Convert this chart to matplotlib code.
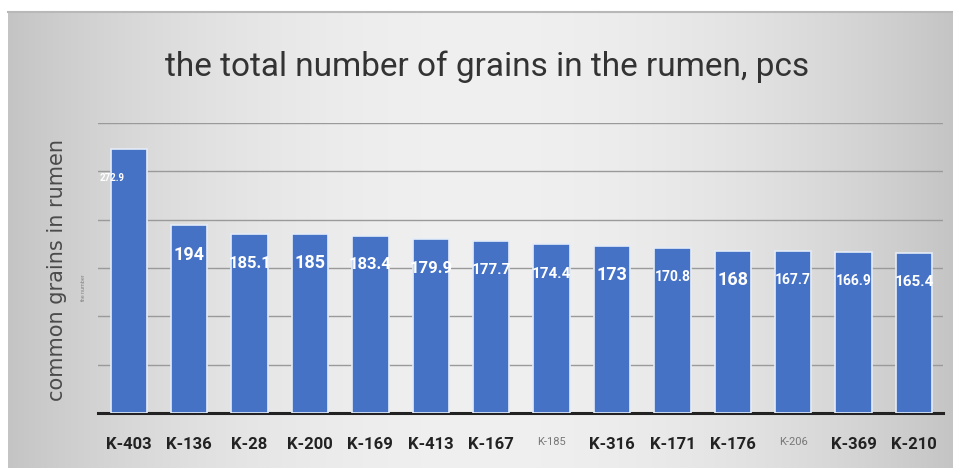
import numpy as np
import matplotlib.pyplot as plt

plt.rcParams['font.family'] = ['Roboto', 'DejaVu Sans']

# grains counted in the rumen, per sample
samples = ["K-403", "K-136", "K-28", "K-200", "K-169", "K-413", "K-167",
           "K-185", "K-316", "K-171", "K-176", "K-206", "K-369", "K-210"]
grains = [272.9, 194, 185.1, 185, 183.4, 179.9, 177.7,
          174.4, 173, 170.8, 168, 167.7, 166.9, 165.4]
value_text = ["272.9", "194", "185.1", "185", "183.4", "179.9", "177.7",
              "174.4", "173", "170.8", "168", "167.7", "166.9", "165.4"]
label_sizes = [7, 13, 12, 13, 12, 12, 11, 11, 13, 10, 13, 10, 10, 11]
small_ticks = ["K-185", "K-206"]

fig = plt.figure(figsize=(9.54, 4.68), dpi=100)

# grey card behind the chart, darker at both sides
bg = fig.add_axes([0, 0, 1, 1], zorder=-10)
xs = np.linspace(0, 1, 400)
shade = 0.94 - 0.17 * (np.abs(xs - 0.5) * 2) ** 2
img = np.tile(shade, (100, 1))
img = np.dstack([img, img, img])
bg.imshow(img, extent=[8 / 954, 1, 0, 1 - 12 / 468], aspect='auto',
          interpolation='bilinear')
bg.plot([8 / 954, 1], [1 - 12 / 468] * 2, color='#b8b8b8', lw=1.5)
bg.set_xlim(0, 1)
bg.set_ylim(0, 1)
bg.axis('off')

ax = fig.add_axes([98 / 954, 55 / 468, 845 / 954, 290 / 468])
ax.set_facecolor('none')
x = np.arange(len(samples))
bars = ax.bar(x, grains, width=0.6, color='#4672c6',
              edgecolor='#e4ecf8', linewidth=1.2, zorder=3)

for i, (v, t, s) in enumerate(zip(grains, value_text, label_sizes)):
    dx = -12 if i == 0 else 0
    ax.annotate(t, (i, v), xytext=(dx, -21), textcoords='offset points',
                ha='center', va='center', color='white', fontsize=s,
                fontweight='bold', zorder=5)

ax.set_xlim(-0.51, 13.48)
ax.set_ylim(0, 300)
ax.set_yticks(np.arange(0, 301, 50))
ax.yaxis.grid(True, color='#9a9a9a', lw=1)
ax.set_axisbelow(True)
ax.tick_params(axis='y', left=False, labelleft=False)
ax.tick_params(axis='x', bottom=False, pad=14)
for sp in ['top', 'right', 'left']:
    ax.spines[sp].set_visible(False)
ax.spines['bottom'].set_linewidth(2.2)
ax.spines['bottom'].set_color('#222222')

ax.set_xticks(x)
ax.set_xticklabels(samples)
for lab in ax.get_xticklabels():
    if lab.get_text() in small_ticks:
        lab.set_fontsize(8)
        lab.set_color('#777777')
        lab.set_fontweight('normal')
    else:
        lab.set_fontsize(12)
        lab.set_color('#222222')
        lab.set_fontweight('bold')

fig.text(0.511, 0.857, "the total number of grains in the rumen, pcs",
         ha='center', va='center', fontsize=24, color='#333333')
fig.text(0.06, 0.423, "common grains in rumen", rotation=90,
         ha='center', va='center', fontsize=15, color='#4a4a4a',
         family='DejaVu Sans')
fig.text(0.088, 0.385, "the number", rotation=90,
         ha='center', va='center', fontsize=4, color='#888888')

fig.savefig("out.png", dpi=100)
